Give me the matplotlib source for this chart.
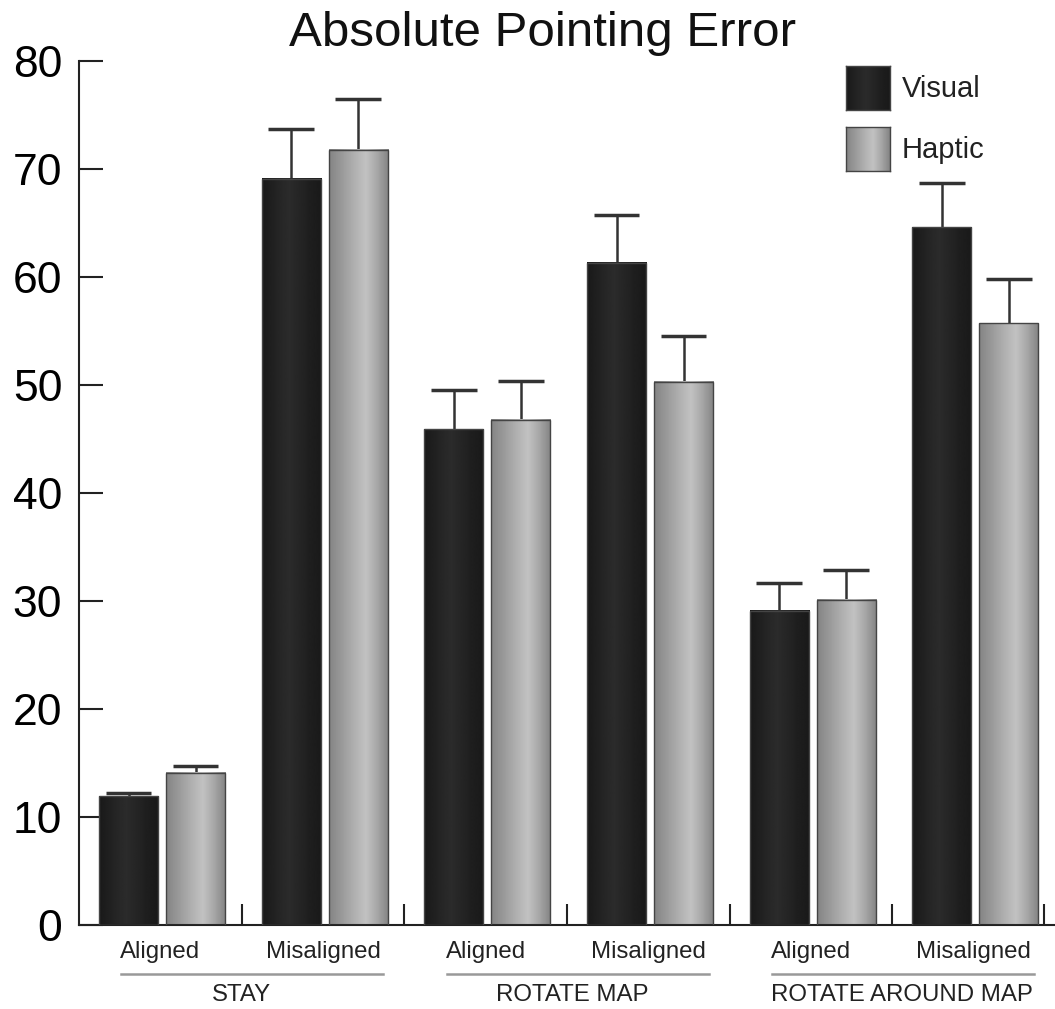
import numpy as np
import matplotlib.pyplot as plt

# data
categories = ['Aligned', 'Misaligned', 'Aligned', 'Misaligned', 'Aligned', 'Misaligned']
groups = ['STAY', 'ROTATE MAP', 'ROTATE AROUND MAP']
visual = [11.9, 69.1, 45.9, 61.3, 29.1, 64.6]
visual_err = [0.3, 4.6, 3.6, 4.4, 2.6, 4.1]
haptic = [14.1, 71.8, 46.8, 50.3, 30.1, 55.7]
haptic_err = [0.6, 4.7, 3.6, 4.2, 2.8, 4.1]
yticks = [0, 10, 20, 30, 40, 50, 60, 70, 80]

plt.rcParams['font.family'] = ['Liberation Sans', 'DejaVu Sans']

# stripe-like horizontal shading of the bars
t = np.linspace(0, 1, 64)
dark = np.interp(t, [0, 0.12, 0.3, 0.45, 0.6, 0.8, 1], [0.10, 0.12, 0.15, 0.17, 0.15, 0.12, 0.10])
light = np.interp(t, [0, 0.2, 0.45, 0.62, 0.8, 1], [0.52, 0.60, 0.70, 0.76, 0.66, 0.52])

fig = plt.figure(figsize=(10.55, 10.09), dpi=100)
ax = fig.add_axes([79 / 1055, 84 / 1009, 976 / 1055, 864 / 1009])

w = 0.363
off_v = 0.123
off_h = 0.535
cap = 0.141


def shaded_bar(x0, h, prof):
    ax.imshow(prof[np.newaxis, :], extent=[x0, x0 + w, 0, h], aspect='auto',
              cmap='gray', vmin=0, vmax=1, zorder=2, interpolation='bilinear')
    ax.add_patch(plt.Rectangle((x0, 0), w, h, fill=False, ec='#444444', lw=1, zorder=3))


def upper_err(xc, vals, errs):
    top = np.array(vals) + np.array(errs)
    ax.vlines(xc, vals, top, color='#333333', lw=1.8, zorder=1)
    ax.hlines(top, xc - cap, xc + cap, color='#333333', lw=2.5, zorder=1)


for i in range(len(categories)):
    shaded_bar(i + off_v, visual[i], dark)
    shaded_bar(i + off_h, haptic[i], light)

xs = np.arange(len(categories))
upper_err(xs + off_v + w / 2, visual, visual_err)
upper_err(xs + off_h + w / 2, haptic, haptic_err)

ax.set_xlim(0, 6)
ax.set_ylim(0, 80)
ax.set_yticks(yticks)
ax.tick_params(axis='y', direction='in', length=17, width=1.5, labelsize=32, pad=12,
               color='#222222')
ax.set_xticks([1, 2, 3, 4, 5, 5.93])
ax.set_xticklabels([])
ax.tick_params(axis='x', direction='in', length=15, width=1.5, color='#222222')
for s in ['top', 'right']:
    ax.spines[s].set_visible(False)
for s in ['left', 'bottom']:
    ax.spines[s].set_linewidth(1.5)
    ax.spines[s].set_color('#222222')

# category and group labels under the axis
tr = ax.get_xaxis_transform()
for i, c in enumerate(categories):
    ax.text(i + 0.5, -0.031, c, transform=tr, ha='center', va='center', fontsize=17.3,
            color='#222222')
for g, name in enumerate(groups):
    ax.plot([2 * g + 0.26, 2 * g + 1.87], [-0.057, -0.057], transform=tr, color='#999999',
            lw=1.8, clip_on=False)
    ax.text(2 * g + 1.0 + 0.03 * g, -0.081, name, transform=tr, ha='center', va='center',
            fontsize=17.3, color='#222222')

# legend with the same shading
for k, (prof, label, ytop) in enumerate([(dark, 'Visual', 66), (light, 'Haptic', 127)]):
    lax = fig.add_axes([846 / 1055, 1 - (ytop + 44) / 1009, 44 / 1055, 44 / 1009])
    lax.imshow(prof[np.newaxis, :], aspect='auto', cmap='gray', vmin=0, vmax=1,
               interpolation='bilinear')
    lax.set_xticks([])
    lax.set_yticks([])
    for s in lax.spines.values():
        s.set_color('#444444')
        s.set_linewidth(1)
    fig.text(902 / 1055, 1 - (ytop + 23) / 1009, label, ha='left', va='center',
             fontsize=21, color='#222222')

fig.text(543 / 1055, 1 - 33 / 1009, 'Absolute Pointing Error', ha='center', va='center',
         fontsize=35.5, color='#111111')

plt.savefig('out.png')
